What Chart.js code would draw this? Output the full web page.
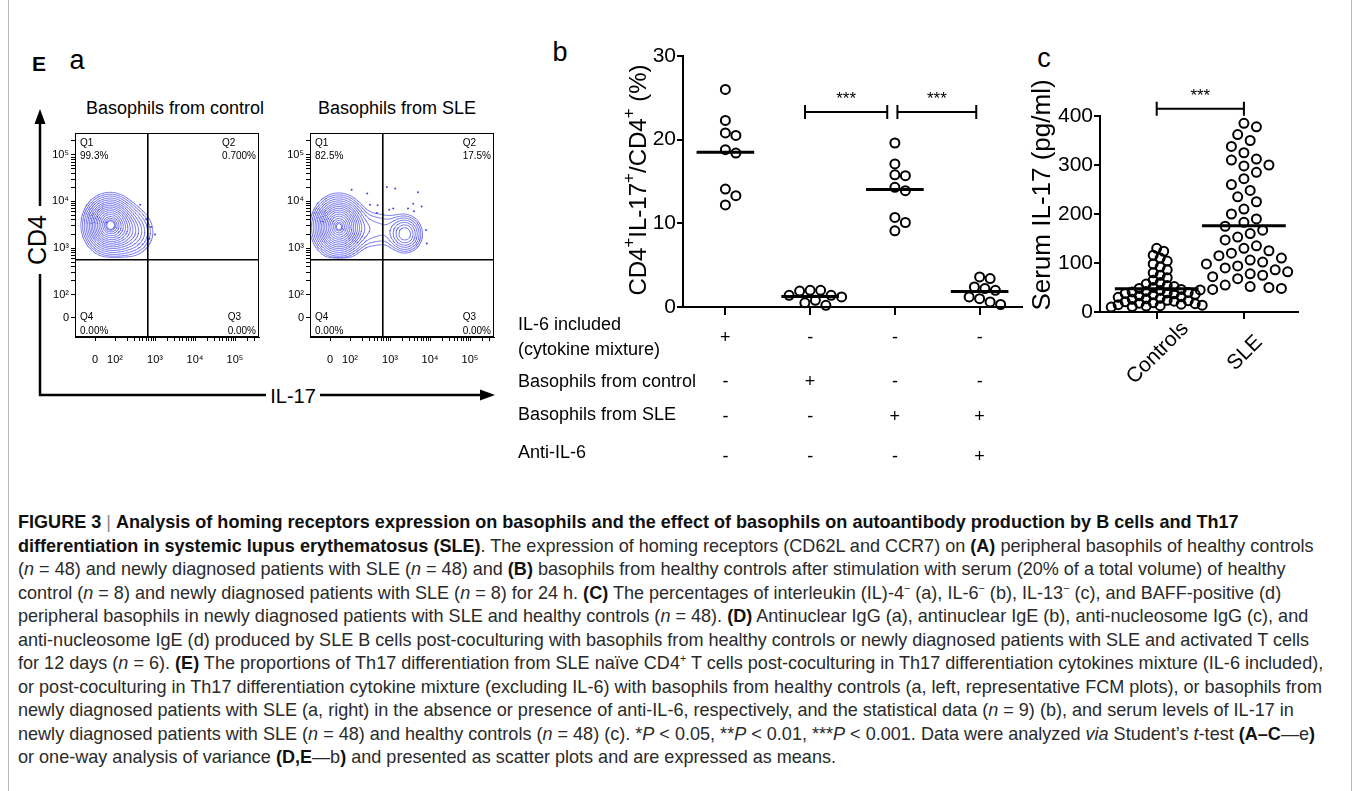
<!DOCTYPE html>
<html>
<head>
<meta charset="utf-8">
<title>Figure 3E</title>
<script src="https://cdn.jsdelivr.net/npm/chart.js@4.4.1/dist/chart.umd.min.js"></script>
<style>
  body { margin: 0; width: 1359px; height: 791px; overflow: hidden; background: #fff; position: relative;
         font-family: 'Liberation Sans', Arial, sans-serif; color: #000; }
  .frame { position: absolute; left: 8px; top: -2px; width: 1342px; height: 800px; border: 1px solid #b8b8b8; }
  canvas { position: absolute; }
  .lbl { position: absolute; white-space: nowrap; transform: translate(-50%, -50%); line-height: 1; }
  #caption { position: absolute; left: 18px; top: 510px; color: #2a2a2a;
             font-family: 'Liberation Sans', Arial, sans-serif; font-size: 18.5px; transform-origin: 0 0; }
  #caption div { white-space: nowrap; height: 23.5px; line-height: 23.5px; width: max-content; }
  #caption b { color: #111; }
  #caption sup { font-size: 0.6em; line-height: 0; }
  .bar { color: #888; font-weight: normal; }
</style>
</head>
<body>
<div class="frame"></div>

<svg width="1359" height="500" style="position:absolute;left:0;top:0">
  <g stroke="#000" stroke-width="2.5" fill="none">
    <path d="M40 396 V 274"/>
    <path d="M40 206 V 120"/>
    <path d="M39 395 H 266"/>
    <path d="M320 395 H 482"/>
  </g>
  <path d="M40 109 L34.5 124 L45.5 124 Z" fill="#000"/>
  <path d="M495 395 L480 389.5 L480 400.5 Z" fill="#000"/>
</svg>

<div class="lbl" style="left:39px;top:63px;font-weight:bold;font-size:21px">E</div>
<div class="lbl" style="left:77px;top:60px;font-size:27px">a</div>
<div class="lbl" style="left:560px;top:52px;font-size:27px">b</div>
<div class="lbl" style="left:1044px;top:58px;font-size:27px">c</div>
<div class="lbl" style="left:175px;top:108px;font-size:18px">Basophils from control</div>
<div class="lbl" style="left:397px;top:108px;font-size:18px">Basophils from SLE</div>
<div class="lbl" style="left:37px;top:240px;font-size:25px;transform:translate(-50%,-50%) rotate(-90deg)">CD4</div>
<div class="lbl" style="left:293px;top:396px;font-size:20px">IL-17</div>

<canvas id="flowCtrl" width="250" height="270" style="left:20px;top:120px"></canvas>
<canvas id="flowSle" width="250" height="270" style="left:255px;top:120px"></canvas>
<canvas id="panelB" width="520" height="450" style="left:510px;top:30px"></canvas>
<canvas id="panelC" width="320" height="340" style="left:1030px;top:60px"></canvas>

<div id="caption">
  <div><b>FIGURE 3</b> <span class="bar">|</span> <b>Analysis of homing receptors expression on basophils and the effect of basophils on autoantibody production by B cells and Th17</b></div>
  <div><b>differentiation in systemic lupus erythematosus (SLE)</b>. The expression of homing receptors (CD62L and CCR7) on <b>(A)</b> peripheral basophils of healthy controls</div>
  <div>(<i>n</i> = 48) and newly diagnosed patients with SLE (<i>n</i> = 48) and <b>(B)</b> basophils from healthy controls after stimulation with serum (20% of a total volume) of healthy</div>
  <div>control (<i>n</i> = 8) and newly diagnosed patients with SLE (<i>n</i> = 8) for 24 h. <b>(C)</b> The percentages of interleukin (IL)-4<sup>−</sup> (a), IL-6<sup>−</sup> (b), IL-13<sup>−</sup> (c), and BAFF-positive (d)</div>
  <div>peripheral basophils in newly diagnosed patients with SLE and healthy controls (<i>n</i> = 48). <b>(D)</b> Antinuclear IgG (a), antinuclear IgE (b), anti-nucleosome IgG (c), and</div>
  <div>anti-nucleosome IgE (d) produced by SLE B cells post-coculturing with basophils from healthy controls or newly diagnosed patients with SLE and activated T cells</div>
  <div>for 12 days (<i>n</i> = 6). <b>(E)</b> The proportions of Th17 differentiation from SLE naïve CD4<sup>+</sup> T cells post-coculturing in Th17 differentiation cytokines mixture (IL-6 included),</div>
  <div>or post-coculturing in Th17 differentiation cytokine mixture (excluding IL-6) with basophils from healthy controls (a, left, representative FCM plots), or basophils from</div>
  <div>newly diagnosed patients with SLE (a, right) in the absence or presence of anti-IL-6, respectively, and the statistical data (<i>n</i> = 9) (b), and serum levels of IL-17 in</div>
  <div>newly diagnosed patients with SLE (<i>n</i> = 48) and healthy controls (<i>n</i> = 48) (c). *<i>P</i> &lt; 0.05, **<i>P</i> &lt; 0.01, ***<i>P</i> &lt; 0.001. Data were analyzed <i>via</i> Student’s <i>t</i>-test <b>(A–C</b>—e<b>)</b></div>
  <div>or one-way analysis of variance <b>(D,E</b>—b<b>)</b> and presented as scatter plots and are expressed as means.</div>
</div>

<script>
Chart.defaults.font.family = "'Liberation Sans', Arial, sans-serif";
Chart.defaults.color = '#000';
const FONT = "'Liberation Sans', Arial, sans-serif";

// ---- panel a: representative FCM plots, axes in log10 units ----
const flowMajorPos = [1.5, 2, 3, 4, 5];
const flowMajorText = ['0', '10²', '10³', '10⁴', '10⁵'];
const gateIL17 = 2.82;
const gateCD4 = 2.75;
const quadCtrl = ['99.3%', '0.700%', '0.00%', '0.00%'];   // Q1, Q2, Q3, Q4
const quadSle = ['82.5%', '17.5%', '0.00%', '0.00%'];
// density peaks: [IL-17, CD4, spread IL-17, spread CD4, weight]
const ctrlPeaks = [[1.87, 3.5, 0.27, 0.26, 1.0], [2.35, 3.35, 0.3, 0.26, 0.2]];
const slePeaks = [[1.72, 3.46, 0.27, 0.27, 1.0], [3.38, 3.3, 0.2, 0.19, 0.26], [2.55, 3.4, 0.5, 0.24, 0.075]];
const contourLevels = [0.99, 0.96, 0.9, 0.82, 0.72, 0.62, 0.52, 0.43, 0.35, 0.28, 0.22, 0.17, 0.125, 0.09, 0.062, 0.042, 0.028];
const ctrlDots = [[2.63, 3.93], [2.78, 3.62], [3.0, 3.29], [2.9, 3.45], [2.86, 3.2]];
const sleDots = [[2.04, 4.25], [2.43, 4.17], [2.92, 4.31], [3.13, 4.28], [3.7, 4.2], [3.58, 3.95],
                 [3.79, 3.89], [2.5, 3.93], [2.69, 3.92], [3.08, 3.85], [2.98, 3.82], [3.45, 3.85],
                 [3.6, 3.79], [2.67, 3.75], [2.82, 3.72], [3.9, 3.39], [3.92, 3.1]];

// ---- panel b: CD4+IL-17+/CD4+ (%) ----
const bIL6 = [26.0, 22.3, 20.8, 20.5, 18.8, 18.4, 14.1, 13.3, 12.2];
const bCtrlBaso = [2.0, 2.0, 1.9, 1.4, 1.4, 1.2, 0.8, 0.5, 0.2];
const bSleBaso = [19.6, 17.1, 15.8, 15.7, 14.3, 13.9, 10.7, 10.1, 9.1];
const bSleAntiIL6 = [3.6, 3.4, 2.4, 2.2, 2.0, 1.2, 1.0, 0.6, 0.3];
const bColumns = [bIL6, bCtrlBaso, bSleBaso, bSleAntiIL6];
const bTicks = [0, 10, 20, 30];
const bBrackets = [[1.94, 2.91, 23.3], [3.03, 3.96, 23.3]];
const bRowLabels = [['IL-6 included', '(cytokine mixture)'], ['Basophils from control'], ['Basophils from SLE'], ['Anti-IL-6']];
const bRowSigns = [['+', '-', '-', '-'], ['-', '+', '-', '-'], ['-', '-', '+', '+'], ['-', '-', '-', '+']];

// ---- panel c: serum IL-17 (pg/ml) ----
const cCategories = ['Controls', 'SLE'];
const cControls = [130, 124, 116, 110, 104, 98, 92, 86, 80, 75, 70, 65,
                   60, 57, 54, 52, 50, 48, 46, 44, 42, 41, 40, 39, 38, 37, 36,
                   35, 33, 31, 30, 28, 27, 26, 24, 23, 22, 21, 19, 18, 17, 16, 15, 14, 13, 12, 11, 10];
const cSle = [385, 378, 362, 350, 338, 325, 312, 310, 300, 298, 285, 272, 260, 248, 235, 225, 210, 200,
              190, 183, 175, 167, 160, 153, 147, 135, 130, 125, 120, 115, 110, 106, 102, 98, 94, 90,
              86, 82, 78, 75, 72, 68, 55, 52, 50, 48, 46, 45];
const cTicks = [0, 100, 200, 300, 400];
const cBracket = [1, 2, 415];

const mean = arr => arr.reduce((s, v) => s + v, 0) / arr.length;

// density of the gated population, cut at the CD4 gate
function density(peaks, x, y) {
  let d = 0;
  for (const [cx, cy, sx, sy, w] of peaks) {
    const u = (x - cx) / sx, v = (y - cy) / sy;
    d += w * Math.exp(-0.5 * (u * u + v * v));
  }
  return d / (1 + Math.exp(-(y - gateCD4 - 0.025) / 0.015));
}

// marching squares -> short segments separated by gaps
function contourLines(peaks) {
  const x0 = 1.0, x1 = 4.4, y0 = 2.6, y1 = 4.6, n = 170, m = 100;
  const dx = (x1 - x0) / n, dy = (y1 - y0) / m;
  const f = [];
  for (let j = 0; j <= m; j++) for (let i = 0; i <= n; i++) f.push(density(peaks, x0 + i * dx, y0 + j * dy));
  const at = (i, j) => f[j * (n + 1) + i];
  const out = [];
  for (const L of contourLevels) {
    for (let j = 0; j < m; j++) {
      for (let i = 0; i < n; i++) {
        const a = at(i, j), b = at(i + 1, j), c = at(i + 1, j + 1), d = at(i, j + 1);
        const pts = [];
        if ((a >= L) !== (b >= L)) pts.push({ x: x0 + (i + (L - a) / (b - a)) * dx, y: y0 + j * dy });
        if ((b >= L) !== (c >= L)) pts.push({ x: x0 + (i + 1) * dx, y: y0 + (j + (L - b) / (c - b)) * dy });
        if ((d >= L) !== (c >= L)) pts.push({ x: x0 + (i + (L - d) / (c - d)) * dx, y: y0 + (j + 1) * dy });
        if ((a >= L) !== (d >= L)) pts.push({ x: x0 + i * dx, y: y0 + (j + (L - a) / (d - a)) * dy });
        for (let k = 0; k + 1 < pts.length; k += 2) {
          out.push(pts[k], pts[k + 1], { x: pts[k + 1].x, y: null });
        }
      }
    }
  }
  return out;
}

function flowTickValues(max) {
  const vals = flowMajorPos.slice();
  for (let e = 2; e <= 5; e++) {
    for (let k = 2; k <= 9; k++) {
      const v = e + Math.log10(k);
      if (v < max) vals.push(v);
    }
  }
  return vals.sort((p, q) => p - q);
}

const flowFrame = {
  id: 'flowFrame',
  afterDraw(chart, args, opts) {
    const { ctx, chartArea: a, scales: { x, y } } = chart;
    ctx.save();
    ctx.strokeStyle = '#000';
    ctx.lineWidth = 1;
    ctx.strokeRect(a.left + 0.5, a.top + 0.5, a.right - a.left - 1, a.bottom - a.top - 1);
    const gx = x.getPixelForValue(gateIL17), gy = y.getPixelForValue(gateCD4);
    ctx.lineWidth = 1.6;
    ctx.beginPath();
    ctx.moveTo(gx, a.top); ctx.lineTo(gx, a.bottom);
    ctx.moveTo(a.left, gy); ctx.lineTo(a.right, gy);
    ctx.stroke();
    ctx.fillStyle = '#000';
    ctx.font = '10px ' + FONT;
    ctx.textBaseline = 'middle';
    ctx.textAlign = 'left';
    const q = opts.quad;
    ctx.fillText('Q1', a.left + 5, a.top + 10);
    ctx.fillText(q[0], a.left + 5, a.top + 23);
    ctx.fillText('Q4', a.left + 5, a.bottom - 20);
    ctx.fillText(q[3], a.left + 5, a.bottom - 6);
    const w2 = ctx.measureText(q[1]).width, w3 = ctx.measureText(q[2]).width;
    ctx.fillText('Q2', a.right - 3 - w2, a.top + 10);
    ctx.fillText(q[1], a.right - 3 - w2, a.top + 23);
    ctx.fillText('Q3', a.right - 3 - w3, a.bottom - 20);
    ctx.fillText(q[2], a.right - 3 - w3, a.bottom - 6);
    ctx.restore();
  }
};

function flowAxis(min, max, fit, pad) {
  return {
    type: 'linear', min, max, afterFit: fit,
    afterBuildTicks: s => { s.ticks = flowTickValues(max).map(value => ({ value })); },
    grid: { drawOnChartArea: false, tickLength: 4, color: '#000', lineWidth: 1 },
    border: { color: '#000', width: 1 },
    ticks: {
      autoSkip: false, maxRotation: 0, padding: pad, font: { size: 11 },
      callback: v => { const i = flowMajorPos.indexOf(v); return i >= 0 ? flowMajorText[i] : ''; }
    }
  };
}

function flowChart(id, peaks, dots, quad) {
  return new Chart(document.getElementById(id), {
    type: 'scatter',
    data: {
      datasets: [
        { data: contourLines(peaks), showLine: true, borderColor: 'rgba(58,58,232,0.9)', borderWidth: 0.75,
          pointRadius: 0, spanGaps: false },
        { data: dots.map(([x, y]) => ({ x, y })), pointRadius: 1, pointBackgroundColor: '#4646e6',
          pointBorderWidth: 0, borderColor: '#4646e6' }
      ]
    },
    options: {
      responsive: false, animation: false, events: [],
      layout: { padding: { top: 13, right: 11, left: 0, bottom: 0 } },
      plugins: { legend: { display: false }, tooltip: { enabled: false }, flowFrame: { quad } },
      scales: {
        x: flowAxis(1.0, 5.6, s => { s.height = 53; }, 12),
        y: flowAxis(1.09, 5.47, s => { s.width = 55; }, 2)
      }
    },
    plugins: [flowFrame]
  });
}

flowChart('flowCtrl', ctrlPeaks, ctrlDots, quadCtrl);
flowChart('flowSle', slePeaks, sleDots, quadSle);

// ---- shared helpers for the dot plots ----
const circle = {
  showLine: false, pointStyle: 'circle', pointRadius: 4.5, pointBorderWidth: 2,
  pointBorderColor: '#000', pointBackgroundColor: 'rgba(0,0,0,0)', borderColor: '#000', clip: false
};

function meanLine(values, cat, half) {
  const m = mean(values);
  return { data: [{ x: cat - half, y: m }, { x: cat + half, y: m }], showLine: true, borderColor: '#000',
           borderWidth: 3, pointRadius: 0, clip: false };
}

function bracket(ctx, x1, x2, yb, cap) {
  ctx.lineWidth = 2;
  ctx.strokeStyle = '#000';
  ctx.beginPath();
  ctx.moveTo(x1, yb); ctx.lineTo(x2, yb);
  ctx.moveTo(x1, yb - cap); ctx.lineTo(x1, yb + cap);
  ctx.moveTo(x2, yb - cap); ctx.lineTo(x2, yb + cap);
  ctx.stroke();
  ctx.fillStyle = '#000';
  ctx.font = '17px ' + FONT;
  ctx.textAlign = 'center';
  ctx.textBaseline = 'alphabetic';
  ctx.fillText('***', (x1 + x2) / 2, yb - 8);
}

// rotated title with superscripts: parts = [[text, isSup], ...]
function verticalTitle(ctx, cx, cy, parts, size) {
  ctx.save();
  ctx.translate(cx, cy);
  ctx.rotate(-Math.PI / 2);
  ctx.fillStyle = '#000';
  ctx.textBaseline = 'middle';
  ctx.textAlign = 'left';
  const fontOf = sup => (sup ? Math.round(size * 0.72) : size) + 'px ' + FONT;
  let total = 0;
  parts.forEach(([t, sup]) => { ctx.font = fontOf(sup); total += ctx.measureText(t).width; });
  let px = -total / 2;
  parts.forEach(([t, sup]) => {
    ctx.font = fontOf(sup);
    ctx.fillText(t, px, sup ? -size * 0.42 : 0);
    px += ctx.measureText(t).width;
  });
  ctx.restore();
}

// spread close values sideways so circles do not pile up
function swarm(chart, groups) {
  const xs = chart.scales.x, ys = chart.scales.y;
  const unit = xs.getPixelForValue(1) - xs.getPixelForValue(0);
  groups.forEach(({ ds, cat, values, diam }) => {
    const placed = [];
    chart.data.datasets[ds].data = values.map(v => {
      const py = ys.getPixelForValue(v);
      let off = 0;
      for (let s = 0; s < 80; s++) {
        off = (s === 0 ? 0 : (s % 2 ? 1 : -1) * Math.ceil(s / 2)) * diam / 2;
        if (placed.every(p => Math.hypot(p.x - off, p.y - py) >= diam)) break;
      }
      placed.push({ x: off, y: py });
      return { x: cat + off / unit, y: v };
    });
  });
  chart.update('none');
}

// ---- panel b ----
const panelBPlugin = {
  id: 'panelBExtras',
  afterDraw(chart) {
    const { ctx, scales: { x, y } } = chart;
    ctx.save();
    bBrackets.forEach(([from, to, v]) => bracket(ctx, x.getPixelForValue(from), x.getPixelForValue(to), y.getPixelForValue(v), 7));
    ctx.fillStyle = '#000';
    ctx.font = '18px ' + FONT;
    ctx.textBaseline = 'middle';
    const labelY = [[295, 320], [352], [385], [423]];
    const signY = [308, 352, 387, 427];
    bRowLabels.forEach((lines, r) => {
      ctx.textAlign = 'left';
      lines.forEach((t, k) => ctx.fillText(t, 8, labelY[r][k]));
      ctx.textAlign = 'center';
      bRowSigns[r].forEach((s, c) => ctx.fillText(s, x.getPixelForValue(c + 1), signY[r]));
    });
    verticalTitle(ctx, 129, 150, [['CD4'], ['+', true], ['IL-17'], ['+', true], ['/CD4'], ['+', true], [' (%)']], 24);
    ctx.restore();
  }
};

const chartB = new Chart(document.getElementById('panelB'), {
  type: 'scatter',
  data: {
    datasets: [
      ...bColumns.map((vals, i) => meanLine(vals, i + 1, 0.34)),
      ...bColumns.map((vals, i) => ({ ...circle, data: vals.map(v => ({ x: i + 1, y: v })) }))
    ]
  },
  options: {
    responsive: false, animation: false, events: [],
    layout: { padding: { top: 26, right: 8, left: 0, bottom: 0 } },
    plugins: { legend: { display: false }, tooltip: { enabled: false } },
    scales: {
      x: {
        type: 'linear', min: 0.5, max: 4.5, afterFit: s => { s.height = 173; },
        afterBuildTicks: s => { s.ticks = [1, 2, 3, 4].map(value => ({ value })); },
        grid: { drawOnChartArea: false, tickLength: 8, color: '#000', lineWidth: 2 },
        border: { color: '#000', width: 2 },
        ticks: { callback: () => '' }
      },
      y: {
        min: 0, max: 30, afterFit: s => { s.width = 173; },
        afterBuildTicks: s => { s.ticks = bTicks.map(value => ({ value })); },
        grid: { drawOnChartArea: false, tickLength: 6, color: '#000', lineWidth: 2 },
        border: { color: '#000', width: 2 },
        ticks: { font: { size: 21 }, padding: 1 }
      }
    }
  },
  plugins: [panelBPlugin]
});
swarm(chartB, bColumns.map((values, i) => ({ ds: 4 + i, cat: i + 1, values, diam: 10.5 })));

// ---- panel c ----
const panelCPlugin = {
  id: 'panelCExtras',
  afterDraw(chart) {
    const { ctx, scales: { x, y } } = chart;
    ctx.save();
    bracket(ctx, x.getPixelForValue(cBracket[0]), x.getPixelForValue(cBracket[1]), y.getPixelForValue(cBracket[2]), 7);
    verticalTitle(ctx, 13, 135, [['Serum IL-17 (pg/ml)']], 26);
    // category names, rotated about their centres
    ctx.font = '21px ' + FONT;
    ctx.fillStyle = '#000';
    ctx.textAlign = 'center';
    ctx.textBaseline = 'middle';
    cCategories.forEach((name, i) => {
      ctx.save();
      ctx.translate(x.getPixelForValue(i + 1) + 1, y.bottom + 41);
      ctx.rotate(-Math.PI / 4);
      ctx.fillText(name, 0, 0);
      ctx.restore();
    });
    ctx.restore();
  }
};

const cColumns = [cControls, cSle];
const cSpread = [7, 12.5];   // how far apart close values are pushed in each column
const chartC = new Chart(document.getElementById('panelC'), {
  type: 'scatter',
  data: {
    datasets: [
      ...cColumns.map((vals, i) => meanLine(vals, i + 1, 0.48)),
      ...cColumns.map((vals, i) => ({ ...circle, data: vals.map(v => ({ x: i + 1, y: v })) }))
    ]
  },
  options: {
    responsive: false, animation: false, events: [],
    layout: { padding: { top: 56, right: 52, left: 0, bottom: 0 } },
    plugins: { legend: { display: false }, tooltip: { enabled: false } },
    scales: {
      x: {
        type: 'linear', min: 0.35, max: 2.62, afterFit: s => { s.height = 88; },
        afterBuildTicks: s => { s.ticks = [1, 2].map(value => ({ value })); },
        grid: { drawOnChartArea: false, tickLength: 7, color: '#000', lineWidth: 2 },
        border: { color: '#000', width: 2 },
        ticks: { callback: () => '' }
      },
      y: {
        min: 0, max: 400, afterFit: s => { s.width = 70; },
        afterBuildTicks: s => { s.ticks = cTicks.map(value => ({ value })); },
        grid: { drawOnChartArea: false, tickLength: 6, color: '#000', lineWidth: 2 },
        border: { color: '#000', width: 2 },
        ticks: { font: { size: 21 }, padding: 1 }
      }
    }
  },
  plugins: [panelCPlugin]
});
swarm(chartC, cColumns.map((values, i) => ({ ds: 2 + i, cat: i + 1, values, diam: cSpread[i] })));

// squeeze the caption horizontally to the width of the reference text block
const capLines = document.querySelectorAll('#caption div');
const refWidth = capLines[7].getBoundingClientRect().width;
document.getElementById('caption').style.transform = 'scaleX(' + (1304 / refWidth).toFixed(4) + ')';
</script>
</body>
</html>
